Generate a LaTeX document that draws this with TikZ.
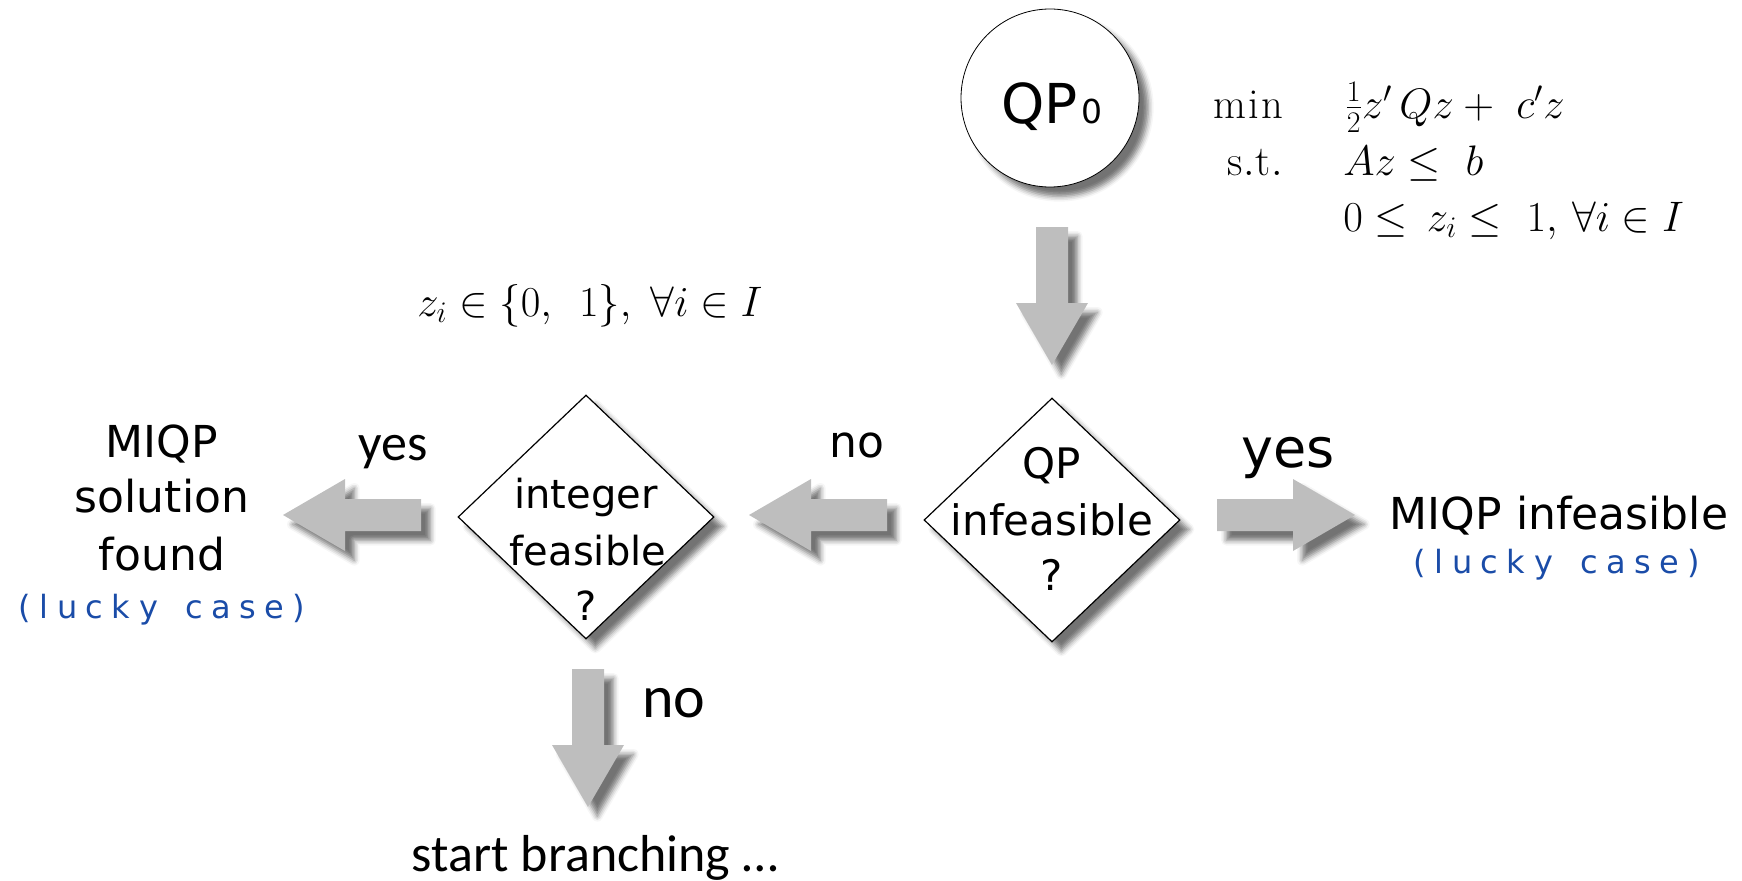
\RequirePackage{fix-cm}
\documentclass[tikz,border=0pt]{standalone}
\usepackage{amsmath}
\usepackage{fontspec}
\usetikzlibrary{shapes.geometric,calc,shadows.blur}
\newfontfamily\vf{DejaVu Sans}
\newfontfamily\cf{Carlito}
\definecolor{arrowgray}{HTML}{BEBEBE}
\definecolor{luckyblue}{HTML}{1A4CA8}
\newcommand\fs[1]{\fontsize{#1}{#1}\selectfont}
\newcommand\Ksp{\kern 6.4pt}
\newcommand\lucky{(\Ksp l\Ksp u\Ksp c\Ksp k\Ksp y\Ksp\ \Ksp c\Ksp a\Ksp s\Ksp e\Ksp)}
\begin{document}
\begin{tikzpicture}[x=0.75pt,y=-0.75pt,
  shd/.style={blur shadow={shadow xshift=7pt,shadow yshift=-7pt,shadow blur radius=4pt,shadow opacity=55}},
  dec/.style={diamond,draw,fill=white,line width=0.9pt,minimum width=192pt,minimum height=183pt,inner sep=0pt,shd},
  txt/.style={anchor=base,inner sep=0pt},
  vbig/.style={txt,font={\vf\fs{33pt}}},
  vdec/.style={txt,font={\vf\fs{#1}}},
  cal/.style={txt,font={\cf\fs{#1}}},
  luck/.style={txt,font={\vf\fs{24pt}},text=luckyblue},
  mth/.style={inner sep=0pt,font={\fs{32pt}}},
  blockarrow/.style={fill=arrowgray,shd,
    to path={
      ($(\tikztotarget)!46.5pt!(\tikztostart)$) coordinate (hb)
      ($(\tikztostart)!12pt!90:(\tikztotarget)$)
      -- ($(hb)!12pt!-90:(\tikztostart)$)
      -- ($(hb)!27pt!-90:(\tikztostart)$)
      -- (\tikztotarget)
      -- ($(hb)!27pt!90:(\tikztostart)$)
      -- ($(hb)!12pt!90:(\tikztostart)$)
      -- ($(\tikztostart)!12pt!-90:(\tikztotarget)$)
      -- cycle}}]
\useasboundingbox (0,0) rectangle (1742,881);

% QP0 circle
\node[circle,draw,fill=white,line width=0.6pt,minimum size=133.5pt,inner sep=0pt,shd] (qp0) at (1050,98) {};
\node[txt] (qp0t) at (1052,123) {\vf\fs{41.25pt}QP\kern3pt\fs{24.75pt}0};

% formulation
\node[mth,anchor=base east] (minl) at (1284,118) {$\mathrm{m\kern1.8pt i\kern1.8pt n}$};
\node[mth,anchor=base west] (obj) at (1345,118) {$\tfrac{1}{2}z'\,Qz+\ c'z$};
\node[mth,anchor=base east] (stl) at (1283,175) {$\mathrm{s\kern0.5pt.\kern0.5pt t\kern0.5pt.}$};
\node[mth,anchor=base west] (con1) at (1343,175) {$Az\le\ b$};
\node[mth,anchor=base west] (con2) at (1343,231) {$0\le\,z_i\le\ 1,\,\forall i\in I$};
\node[mth,anchor=base west] (intc) at (417,316) {$z_i\in\{0,\ \,1\},\;\forall i\in I$};

% decisions
\node[dec] (qpd) at (1052,520) {};
\node[vdec=31.5pt] (qpl1) at (1052,478) {QP};
\node[vdec=31.5pt] (qpl2) at (1052,535) {infeasible};
\node[vdec=31.5pt] (qpl3) at (1052,590) {?};

\node[dec] (intd) at (586,517) {};
\node[vdec=30pt] (inl1) at (586,508) {integer};
\node[vdec=30pt] (inl2) at (588,565) {feasible};
\node[vdec=30pt] (inl3) at (586,620) {?};

% outcomes
\node[vbig] (sol1) at (162,457) {MIQP};
\node[vbig] (sol2) at (162,512) {solution};
\node[vbig] (sol3) at (162,570) {found};
\node[luck] (luck1) at (162,618) {\lucky};

\node[vbig] (inf) at (1559,529) {MIQP infeasible};
\node[luck] (luck2) at (1557,573) {\lucky};

\node[cal=39pt] (branch) at (595,871) {start branching …};

% labels
\node[vdec=40.5pt] (yesr) at (1288,467) {yes};
\node[vdec=33pt] (nom) at (857,457) {no};
\node[cal=39pt] (yesl) at (393,460) {yes};
\node[cal=45pt] (nob) at (674,717) {no};

% block arrows
\coordinate (a1s) at (1052,227); \coordinate (a1t) at (1052,365);
\coordinate (a2s) at (887,515);  \coordinate (a2t) at (749,515);
\coordinate (a3s) at (421,515);  \coordinate (a3t) at (283,515);
\coordinate (a4s) at (1217,515); \coordinate (a4t) at (1355,515);
\coordinate (a5s) at (588,669);  \coordinate (a5t) at (588,807);
\fill[blockarrow] (a1s) to (a1t);
\fill[blockarrow] (a2s) to (a2t);
\fill[blockarrow] (a3s) to (a3t);
\fill[blockarrow] (a4s) to (a4t);
\fill[blockarrow] (a5s) to (a5t);
\end{tikzpicture}
\end{document}
